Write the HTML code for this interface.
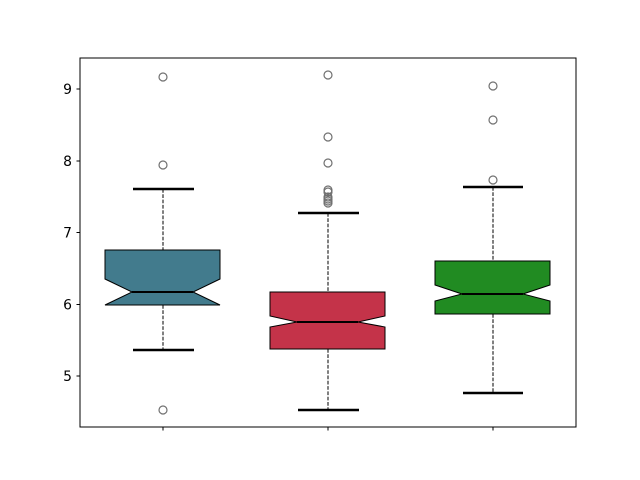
<!DOCTYPE html>
<html><head><style>body{margin:0;background:#fff}svg{display:block}</style></head><body>
<svg width="640" height="480" xmlns="http://www.w3.org/2000/svg" font-family="DejaVu Sans, Liberation Sans, sans-serif">
<rect width="640" height="480" fill="#fff"/>
<g stroke="#000" stroke-width="1" fill="none">
<line x1="163" y1="189" x2="163" y2="250" stroke-dasharray="3.7,1.6"/>
<line x1="163" y1="305" x2="163" y2="350" stroke-dasharray="3.7,1.6"/>
<line x1="328" y1="213" x2="328" y2="292" stroke-dasharray="3.7,1.6"/>
<line x1="328" y1="349" x2="328" y2="410" stroke-dasharray="3.7,1.6"/>
<line x1="493" y1="187" x2="493" y2="261" stroke-dasharray="3.7,1.6"/>
<line x1="493" y1="314" x2="493" y2="393" stroke-dasharray="3.7,1.6"/>
</g>
<path d="M105,250 H220 V279 L193,292 L220,305 H105 L132,292 L105,279 Z" fill="#427b8d" stroke="#000"/>
<path d="M270,292 H385 V316 L358,322 L385,327 V349 H270 V327 L297,322 L270,316 Z" fill="#c43349" stroke="#000"/>
<path d="M435,261 H550 V285 L523,294 L550,301 V314 H435 V301 L462,294 L435,285 Z" fill="#218b22" stroke="#000"/>
<g stroke="#000" stroke-width="2">
<line x1="132" y1="292" x2="193" y2="292"/>
<line x1="297" y1="322" x2="358" y2="322"/>
<line x1="462" y1="294" x2="523" y2="294"/>
</g>
<g stroke="#000" stroke-width="2.5">
<line x1="133" y1="189" x2="194" y2="189"/>
<line x1="133" y1="350" x2="194" y2="350"/>
<line x1="298" y1="213" x2="359" y2="213"/>
<line x1="298" y1="410" x2="359" y2="410"/>
<line x1="463" y1="187" x2="523" y2="187"/>
<line x1="463" y1="393" x2="523" y2="393"/>
</g>
<g fill="none" stroke="#707070" stroke-width="1.2">
<circle cx="163" cy="77" r="4"/><circle cx="163" cy="165" r="4"/><circle cx="163" cy="410" r="4"/>
<circle cx="328" cy="75" r="4"/><circle cx="328" cy="137" r="4"/><circle cx="328" cy="163" r="4"/>
<circle cx="328" cy="190" r="4"/><circle cx="328" cy="192" r="4"/><circle cx="328" cy="197" r="4"/>
<circle cx="328" cy="199" r="4"/><circle cx="328" cy="201" r="4"/><circle cx="328" cy="203" r="4"/>
<circle cx="493" cy="86" r="4"/><circle cx="493" cy="120" r="4"/><circle cx="493" cy="180" r="4"/>
</g>
<rect x="80" y="58" width="496" height="369" fill="none" stroke="#000" stroke-width="1"/>
<g stroke="#000">
<line x1="76.5" y1="89" x2="80" y2="89"/><line x1="76.5" y1="161" x2="80" y2="161"/>
<line x1="76.5" y1="232.5" x2="80" y2="232.5"/><line x1="76.5" y1="304.5" x2="80" y2="304.5"/>
<line x1="76.5" y1="376" x2="80" y2="376"/>
<line x1="163" y1="427" x2="163" y2="430.5"/><line x1="328" y1="427" x2="328" y2="430.5"/><line x1="493" y1="427" x2="493" y2="430.5"/>
</g>
<g font-size="13.9" text-anchor="end" fill="#000">
<text x="72" y="94">9</text><text x="72" y="166">8</text><text x="72" y="237.5">7</text>
<text x="72" y="309.5">6</text><text x="72" y="381">5</text>
</g>
</svg>
</body></html>
